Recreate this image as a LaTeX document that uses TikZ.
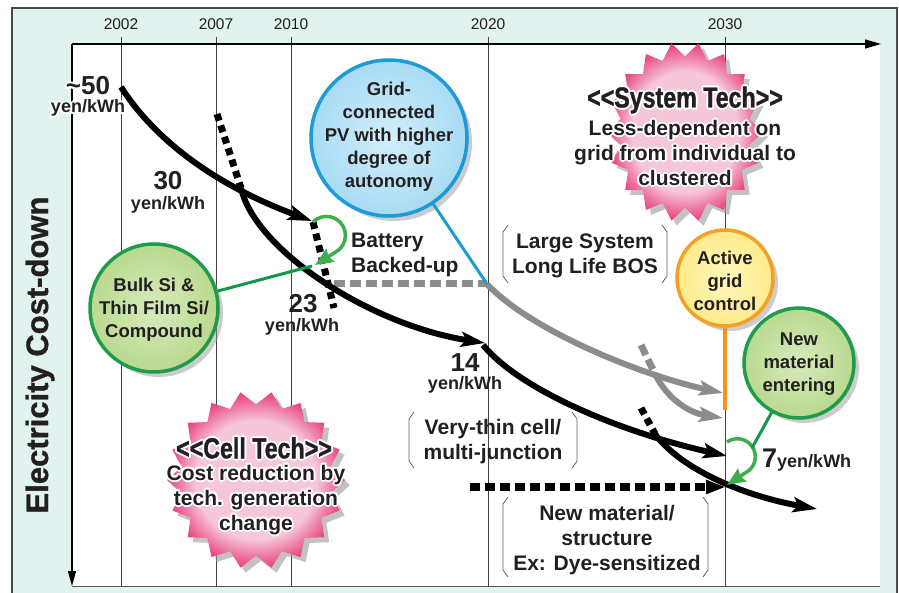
\documentclass[tikz,border=0pt]{standalone}
\usepackage{fontspec}
\setmainfont{Liberation Sans}
\newfontfamily\condfont[FakeStretch=0.8,FakeBold=1.2]{Liberation Sans}
\newfontfamily\heavyfont[FakeBold=1]{Liberation Sans}
\usetikzlibrary{arrows.meta}
\definecolor{tealbg}{HTML}{E1F2EF}
\definecolor{ink}{HTML}{231F20}
\definecolor{framegray}{HTML}{4A4A4A}
\definecolor{curvegray}{HTML}{8C8C8C}
\definecolor{pinkL}{HTML}{F6C6DA}
\definecolor{pinkD}{HTML}{E8417C}
\definecolor{blueedge}{HTML}{1B9BD8}
\definecolor{bluein}{HTML}{D2EEFA}
\definecolor{blueout}{HTML}{A8DBF4}
\definecolor{greenedge}{HTML}{1F9B4B}
\definecolor{greenin}{HTML}{D8EBBC}
\definecolor{greenout}{HTML}{B9D98F}
\definecolor{yellowedge}{HTML}{F4A024}
\definecolor{yellowin}{HTML}{FFF8BC}
\definecolor{yellowout}{HTML}{FFEB8C}
\definecolor{linegreen}{HTML}{12964A}
\definecolor{arcgreen}{HTML}{3DAE4A}
\definecolor{orangeline}{HTML}{F39221}
\definecolor{shadowc}{HTML}{9A9A9A}
\pgfdeclareradialshading{starshade}{\pgfpoint{0bp}{0bp}}{color(0bp)=(pinkL); color(17bp)=(pinkL); color(25bp)=(pinkD); color(50bp)=(pinkD)}
\tikzset{
  bigtip/.tip={Stealth[length=24pt,width=15pt,inset=5pt]},
  greentip/.tip={Stealth[length=18pt,width=15pt,inset=2pt]},
  dashtip/.tip={Triangle[length=20pt,width=13pt]},
  axtip/.tip={Triangle[length=16pt,width=9pt]},
}
\newcommand\starpath[5]{plot[samples at={0,...,36}] ({#1+#3*(mod(\x,2)==0?1:#5)*cos(\x*10)},{#2+#4*(mod(\x,2)==0?1:#5)*sin(\x*10)}) -- cycle}
\newcommand\halonode[4]{%
  \foreach \hx/\hy in {2/0,-2/0,0/2,0/-2,1.4/1.4,1.4/-1.4,-1.4/1.4,-1.4/-1.4}{%
    \node[#3,text=white] at ([shift={(\hx,\hy)}]#2) {#4};}%
  \node[#3] (#1) at (#2) {#4};}
\begin{document}
\begin{tikzpicture}[x=1pt,y=-1pt,
  lbl/.style={font=\bfseries\fontsize{21}{25}\selectfont,text=ink,align=center,inner sep=0pt},
  clbl/.style={font=\bfseries\fontsize{18.5}{23}\selectfont,text=ink,align=center,inner sep=0pt},
  num/.style={font=\bfseries\fontsize{26}{28}\selectfont,text=ink,inner sep=0pt},
  unit/.style={font=\bfseries\fontsize{18}{20}\selectfont,text=ink,inner sep=0pt},
  yr/.style={font=\fontsize{15.5}{17}\selectfont,text=ink,inner sep=0pt},
  startitle/.style={font=\condfont\bfseries\fontsize{29}{31}\selectfont,text=ink,inner sep=0pt},
  yearline/.style={draw=ink!85,line width=0.9pt},
  bcurve/.style={draw=black,line width=6pt},
  gcurve/.style={draw=curvegray,line width=6pt},
  bdash/.style={draw=black,line width=7pt,dash pattern=on 7pt off 5pt},
  gdash/.style={draw=curvegray,line width=7pt,dash pattern=on 11pt off 5pt},
  hdash/.style={draw=black,line width=8pt,dash pattern=on 10pt off 5pt},
  bracketline/.style={draw=ink!70,line width=0.8pt},
  bubble/.style={circle,inner sep=0pt,line width=3.5pt},
  shadowdisc/.style={circle,inner sep=0pt,fill=shadowc,opacity=0.5},
  garc/.style={draw=arcgreen,line width=3.5pt},
  gline/.style={draw=linegreen,line width=3pt},
]
\useasboundingbox (0,0) rectangle (899,593);
\fill[white] (0,0) rectangle (899,593);
\filldraw[fill=tealbg,draw=framegray,line width=1.8pt] (12,8) rectangle (897,600);
\fill[white] (72,44) rectangle (880,586);

% year lines and labels
\foreach \yx/\yl in {121/2002,216/2007,291/2010,488/2020,725/2030}{
  \draw[yearline] (\yx,37) -- (\yx,586);
  \node[yr] (y\yl) at (\yx,24) {\yl};
}
\draw[ink!75,line width=1pt] (72,586) -- (880,586);

% axes
\coordinate (o) at (72,44);
\coordinate (xe) at (881,44);
\coordinate (ye) at (72,586);
\draw[black,line width=1.2pt,-axtip] (o) -- (xe);
\draw[black,line width=1.2pt,-{Triangle[length=15pt,width=8pt]}] (o) -- (ye);
\node[font=\heavyfont\bfseries\fontsize{31}{33}\selectfont,text=ink,rotate=90,inner sep=0pt] (ytitle) at (40,355) {Electricity Cost-down};

% stars
\fill[shadowc,opacity=0.6] \starpath{690}{137}{78}{90}{0.84};
\shade[shading=starshade] \starpath{685}{132}{78}{90}{0.84};
\fill[shadowc,opacity=0.6] \starpath{261}{485}{89}{89}{0.85};
\shade[shading=starshade] \starpath{256}{480}{89}{89}{0.85};

% brackets
\draw[bracketline] (508,225) -- (503,232) -- (503,276) -- (508,283);
\draw[bracketline] (662,225) -- (667,232) -- (667,276) -- (662,283);
\draw[bracketline] (414,412) -- (409,419) -- (409,461) -- (414,468);
\draw[bracketline] (572,412) -- (577,419) -- (577,461) -- (572,468);
\draw[bracketline] (508,497) -- (503,504) -- (503,570) -- (508,577);
\draw[bracketline] (703,497) -- (708,504) -- (708,570) -- (703,577);

% coordinates
\coordinate (a0) at (121,87);
\coordinate (a1) at (312,221);
\coordinate (b0) at (217,114);
\coordinate (b1) at (241,188);
\coordinate (b2) at (485,343);
\coordinate (c0) at (313,222);
\coordinate (c1) at (334,308);
\coordinate (g0) at (334,284);
\coordinate (j1) at (487,284);
\coordinate (g1) at (723,393);
\coordinate (g2) at (641,345);
\coordinate (g3) at (655,374);
\coordinate (g4) at (723,418);
\coordinate (d0) at (483,345);
\coordinate (d1) at (727,456);
\coordinate (e0) at (641,408);
\coordinate (e1) at (655,434);
\coordinate (e2) at (817,509);
\coordinate (h0) at (470,487);
\coordinate (h1) at (726,487);
\coordinate (gt1) at (315,265);
\coordinate (ga2) at (727,442);
\coordinate (gt2) at (727,485);
\coordinate (gl1) at (312,266);
\coordinate (gl2) at (752,448);
\coordinate (o1) at (725,410);

% gray
\draw[gdash] (g0) -- (j1);
\draw[gcurve,-bigtip] (j1) .. controls (530,330) and (640,375) .. (g1);
\draw[gdash] (g2) -- (g3);
\draw[gcurve,-bigtip] (g3) .. controls (668,400) and (690,413) .. (g4);

% black
\draw[bcurve,-bigtip] (a0) .. controls (155,140) and (215,185) .. (a1);
\draw[bdash] (b0) -- (b1);
\draw[bcurve,-bigtip] (b1) .. controls (255,250) and (370,325) .. (b2);
\draw[bdash] (c0) -- (c1);
\draw[bcurve,-bigtip] (d0) .. controls (520,390) and (620,432) .. (d1);
\draw[bdash] (e0) -- (e1);
\draw[bcurve,-bigtip] (e1) .. controls (680,468) and (740,495) .. (e2);
\draw[hdash,-dashtip] (h0) -- (h1);

% green loops
\draw[garc,-greentip] (c0) arc[start angle=135,end angle=-62,radius=19pt] -- (gt1);
\draw[garc,-greentip] (ga2) arc[start angle=125,end angle=-50,radius=18pt] -- (gt2);

% circles
\node[shadowdisc,minimum size=156pt] (gridsh) at (394,143) {};
\node[shadowdisc,minimum size=128pt] (bulksh) at (159,313) {};
\node[shadowdisc,minimum size=96pt] (activesh) at (730,283) {};
\node[shadowdisc,minimum size=110pt] (newsh) at (804,368) {};

\node[bubble,minimum size=156pt,draw=blueedge,inner color=bluein,outer color=blueout] (gridc) at (389,138) {};
\node[bubble,minimum size=128pt,draw=greenedge,inner color=greenin,outer color=greenout] (bulkc) at (154,308) {};
\node[bubble,minimum size=96pt,draw=yellowedge,inner color=yellowin,outer color=yellowout] (activec) at (725,278) {};
\node[bubble,minimum size=110pt,draw=greenedge,inner color=greenin,outer color=greenout] (newc) at (799,363) {};

\draw[draw=blueedge,line width=3pt] (gridc) -- (j1);
\draw[gline] (bulkc) -- (gl1);
\draw[gline] (newc) -- (gl2);
\draw[draw=orangeline,line width=3.5pt] (activec) -- (o1);

% circle texts
\node[clbl] (gridt) at (389,137) {Grid-\\connected\\PV with higher\\degree of\\autonomy};
\node[clbl] (bulkt) at (154,310) {Bulk Si \&\\Thin Film Si/\\Compound};
\node[clbl] (activet) at (725,281) {Active\\grid\\control};
\node[clbl] (newt) at (799,364) {New\\material\\entering};

% labels
\node[lbl,anchor=west,align=left] (battery) at (351,255) {Battery\\Backed-up};
\node[lbl] (largesys) at (585,256) {Large System\\Long Life BOS};
\node[lbl] (verythin) at (493,442) {Very-thin cell/\\multi-junction};
\node[lbl] (newmat) at (607,540) {New material/\\structure\\Ex: Dye-sensitized};

% numbers
\halonode{n50}{88,86}{num}{\textasciitilde 50}
\halonode{u50}{88,108}{unit}{yen/kWh}
\node[num] (n30) at (168,181) {30};
\node[unit] (u30) at (168,205) {yen/kWh};
\node[num] (n23) at (303,304) {23};
\node[unit] (u23) at (302,327) {yen/kWh};
\node[num] (n14) at (465,363) {14};
\node[unit] (u14) at (465,385) {yen/kWh};
\node[anchor=base west,inner sep=0pt,text=ink] (n7) at (762,467) {\bfseries\fontsize{27}{28}\selectfont 7\fontsize{18}{20}\selectfont yen/kWh};

% star texts
\halonode{systitle}{685,100}{startitle}{<{}<System Tech>{}>}
\halonode{systext}{685,153}{lbl}{Less-dependent on\\grid from individual to\\clustered}
\halonode{celltitle}{254,448}{startitle}{<{}<Cell Tech>{}>}
\halonode{celltext}{256,500}{lbl}{Cost reduction by\\tech. generation\\change}
\end{tikzpicture}
\end{document}
